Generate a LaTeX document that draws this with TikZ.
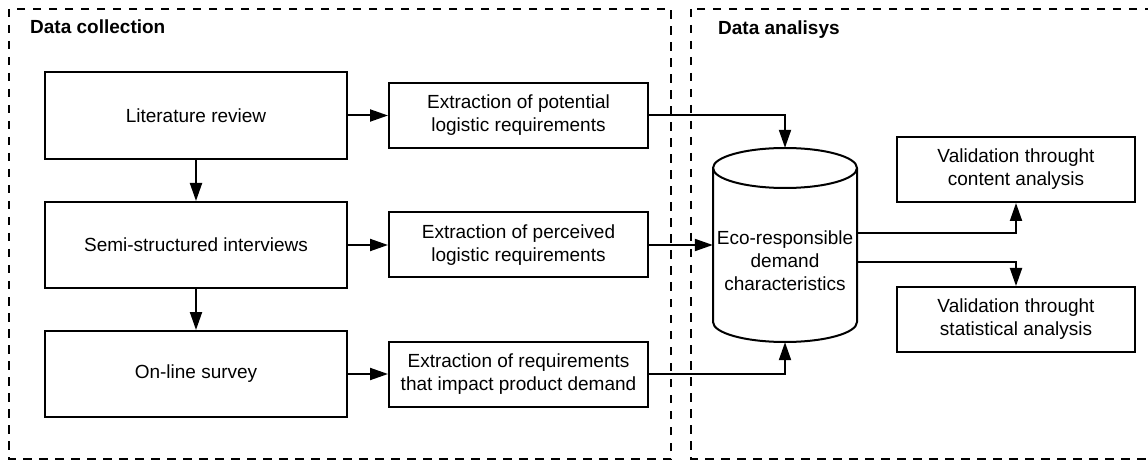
\documentclass[tikz,border=0pt]{standalone}
\usepackage{fontspec}
\setmainfont{Liberation Sans}
\usetikzlibrary{arrows.meta}
\begin{document}
\begin{tikzpicture}[x=1pt,y=-1pt,
  txt/.style={font=\fontsize{19}{23}\selectfont},
  box/.style={draw, line width=2pt, fill=white, align=center, inner sep=0pt, txt},
  bigbox/.style={box, minimum width=302pt, minimum height=86pt},
  exbox/.style={box, minimum width=259pt, minimum height=65pt},
  valbox/.style={box, minimum width=238pt, minimum height=65pt},
  arr/.style={line width=2pt, -{Triangle[length=18pt,width=12pt]}},
  region/.style={draw, line width=1.6pt, dash pattern=on 8.5pt off 7.5pt},
  title/.style={font=\bfseries\fontsize{19}{23}\selectfont, anchor=base west, inner sep=0pt}]
\useasboundingbox (0,0) rectangle (1148,462);

% regions
\draw[region] (9,9) rectangle (671,459);
\draw[region] (691,9) rectangle (1152,459);
\node[title] (t1) at (30,34) {Data collection};
\node[title] (t2) at (718,34.5) {Data analisys};

% left column
\node[bigbox, minimum height=87pt] (lit) at (196,115.5) {Literature review};
\node[bigbox] (semi) at (196,245) {Semi-structured interviews};
\node[bigbox] (online) at (196,374) {On-line survey};

% extraction column
\node[exbox] (pot) at (518.5,115.5) {Extraction of potential\\logistic requirements};
\node[exbox] (per) at (518.5,245) {Extraction of perceived\\logistic requirements};
\node[exbox] (req) at (518.5,374) {Extraction of requirements\\that impact product demand};

% cylinder
\draw[line width=2pt, fill=white] (713,168) -- (713,322)
  arc[start angle=180, end angle=360, x radius=72pt, y radius=20pt]
  -- (857,168)
  arc[start angle=0, end angle=180, x radius=72pt, y radius=20pt] -- cycle;
\draw[line width=2pt] (713,168) arc[start angle=180, end angle=360, x radius=72pt, y radius=20pt];
\node[minimum width=144pt, minimum height=194pt, inner sep=0pt] (cyl) at (785,245) {};
\node[txt, align=center, inner sep=0pt] (cyltext) at (785,261) {Eco-responsible\\demand\\characteristics};

% validation
\node[valbox] (val1) at (1016,169.5) {Validation throught\\content analysis};
\node[valbox] (val2) at (1016,319.5) {Validation throught\\statistical analysis};

% connectors
\draw[arr] (lit.east) -- (lit.east -| pot.west);
\draw[arr] (semi.east) -- (semi.east -| per.west);
\draw[arr] (online.east) -- (online.east -| req.west);
\draw[arr] (lit) -- (semi);
\draw[arr] (semi) -- (online);
\draw[arr] (pot.east) -| (cyl.north);
\draw[arr] (per.east) -- (per.east -| cyl.west);
\draw[arr] (req.east) -| (cyl.south);
\coordinate (o1) at (857,233);
\coordinate (o2) at (857,262);
\draw[arr] (o1) -| (val1.south);
\draw[arr] (o2) -| (val2.north);
\end{tikzpicture}
\end{document}
